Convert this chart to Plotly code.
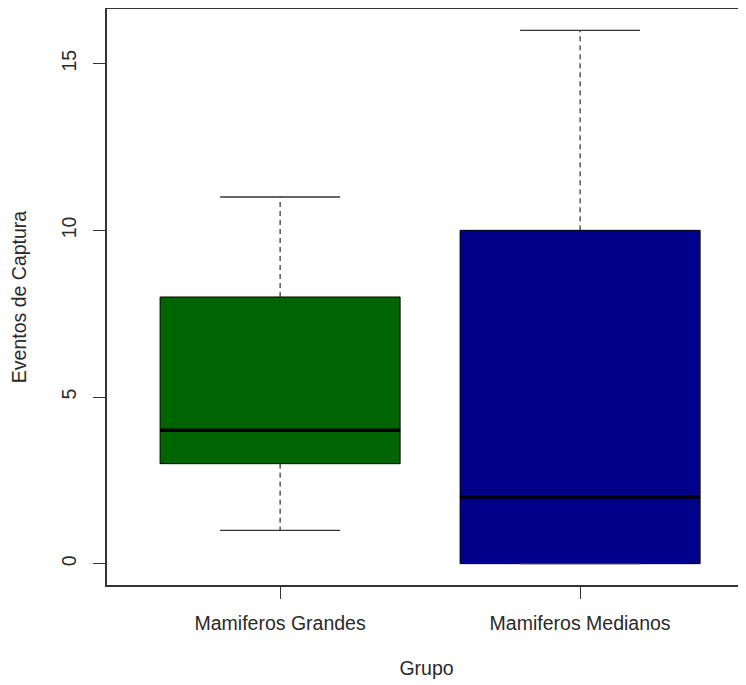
import plotly.graph_objects as go

groups = ["Mamiferos Grandes", "Mamiferos Medianos"]
positions = [1, 2]
lower = [1, 0]
q1 = [3, 0]
median = [4, 2]
q3 = [8, 10]
upper = [11, 16]
colors = ["#006400", "#00008B"]
y_ticks = [0, 5, 10, 15]

FONT = "Liberation Sans, Arial, sans-serif"
FS = 19.5
fig = go.Figure()

for i in range(len(groups)):
    x = positions[i]
    fig.add_trace(go.Box(
        x=[x], q1=[q1[i]], median=[median[i]], q3=[q3[i]],
        lowerfence=[q1[i]], upperfence=[q3[i]],
        width=0.8, whiskerwidth=0, fillcolor=colors[i],
        line=dict(color="black", width=1), showlegend=False, hoverinfo="skip",
    ))
    fig.add_trace(go.Scatter(x=[x, x], y=[q3[i], upper[i]], mode="lines",
                             line=dict(color="black", width=1, dash="5px,4px"),
                             showlegend=False, hoverinfo="skip"))
    fig.add_trace(go.Scatter(x=[x, x], y=[q1[i], lower[i]], mode="lines",
                             line=dict(color="black", width=1, dash="5px,4px"),
                             showlegend=False, hoverinfo="skip"))
    for v in (lower[i], upper[i]):
        fig.add_trace(go.Scatter(x=[x - 0.2, x + 0.2], y=[v, v], mode="lines",
                                 line=dict(color="#333333", width=1.3),
                                 showlegend=False, hoverinfo="skip"))
    fig.add_trace(go.Scatter(x=[x - 0.4, x + 0.4], y=[median[i], median[i]], mode="lines",
                             line=dict(color="black", width=3.5),
                             showlegend=False, hoverinfo="skip"))

fig.update_layout(
    width=738, height=678,
    margin=dict(l=99, r=0, t=1, b=101),
    paper_bgcolor="white", plot_bgcolor="white",
    boxmode="overlay",
    font=dict(family=FONT, size=FS, color="#2a2a2a"),
)
fig.update_xaxes(
    range=[0.423, 2.553], tickvals=positions, ticktext=groups,
    showgrid=False, zeroline=False,
    showline=True, linecolor="#333333", linewidth=1.5, mirror=True,
    ticks="outside", ticklen=12, tickcolor="#333333",
    ticklabelstandoff=8,
    title=dict(text="Grupo", standoff=28, font=dict(size=FS)),
    tickfont=dict(size=FS),
)
fig.update_yaxes(
    range=[-0.64, 16.64], tickvals=y_ticks,
    showgrid=False, zeroline=False,
    showline=True, linecolor="#333333", linewidth=1.5,
    ticks="outside", ticklen=12, tickcolor="#333333",
    tickangle=-90, ticklabelstandoff=9,
    title=dict(text="Eventos de Captura", standoff=27, font=dict(size=FS)),
    tickfont=dict(size=FS),
)

fig.write_html("out.html")
